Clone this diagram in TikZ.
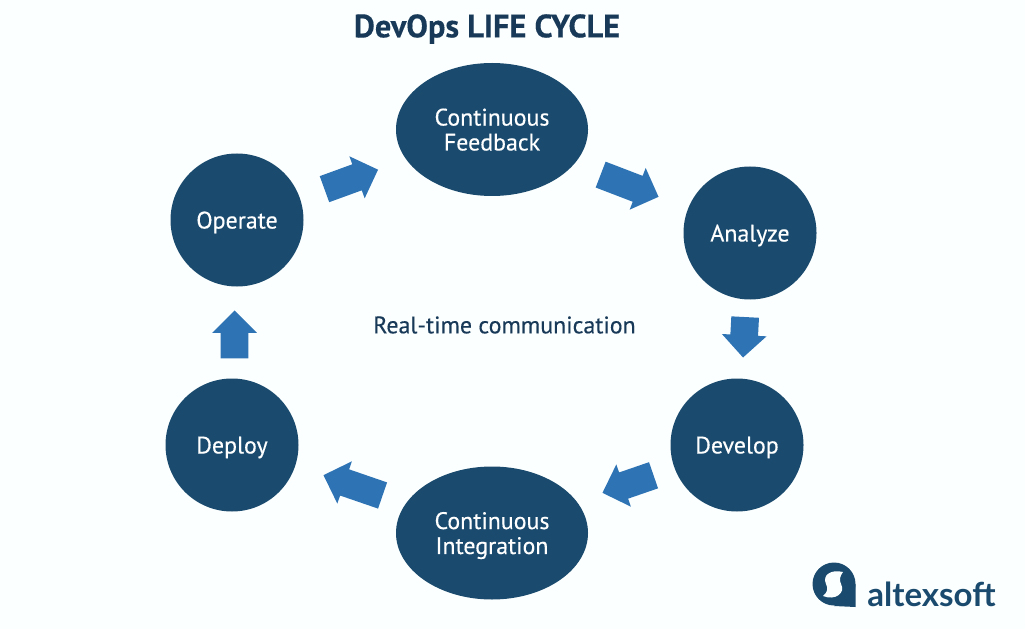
\documentclass[tikz,border=0pt]{standalone}
\usepackage{fontspec}
\setmainfont[FakeBold=0.3]{PT Sans}
\newfontfamily\logofont{Lato}
\usetikzlibrary{shapes.geometric, shapes.arrows}
\definecolor{nodeblue}{RGB}{26,75,110}
\definecolor{arrowblue}{RGB}{46,116,181}
\definecolor{titleblue}{RGB}{24,58,88}
\definecolor{pagewhite}{RGB}{252,255,255}
\tikzset{
  stagenode/.style={circle, fill=nodeblue, text=white, minimum size=2.66cm, inner sep=0pt, text depth=0pt, align=center, font=\fontsize{13.6}{14.2}\selectfont},
  widenode/.style={stagenode, ellipse, minimum width=3.84cm, minimum height=2.66cm},
  flowarrow/.style={single arrow, fill=arrowblue, anchor=tip, inner xsep=0pt, inner ysep=0.27cm, minimum width=0.88cm, single arrow head extend=0.17cm, single arrow head indent=0cm}
}
\begin{document}
\begin{tikzpicture}
  % page
  \fill[pagewhite] (0,0) rectangle (20.5,12.58);
  \useasboundingbox (0,0) rectangle (20.5,12.58);

  % Title
  \node[text=titleblue, font=\fontsize{18.4}{22}\selectfont\bfseries] (title) at (9.74,12.0) {DevOps LIFE CYCLE};
  \node[text=titleblue, font=\fontsize{13.6}{16}\selectfont] (centre) at (10.09,6.08) {Real-time communication};

  % Stages
  \node[widenode] (feedback) at (9.84,9.99) {Continuous\\Feedback};
  \node[stagenode] (analyze) at (15,7.92) {Analyze};
  \node[stagenode] (develop) at (14.74,3.68) {Develop};
  \node[widenode] (integration) at (9.84,1.92) {Continuous\\Integration};
  \node[stagenode] (deploy) at (4.64,3.68) {Deploy};
  \node[stagenode] (operate) at (4.74,8.18) {Operate};

  % Arrows between stages
  \node[flowarrow, minimum height=1.14cm, rotate=20] (arrowa) at (7.57,9.19) {};
  \node[flowarrow, minimum height=1.24cm, rotate=-21] (arrowb) at (13.18,8.64) {};
  \node[flowarrow, minimum height=0.81cm, rotate=-93] (arrowc) at (14.86,5.42) {};
  \node[flowarrow, minimum height=1.08cm, rotate=-161] (arrowd) at (12.04,2.72) {};
  \node[flowarrow, minimum height=1.25cm, rotate=161] (arrowe) at (6.46,3.08) {};
  \node[flowarrow, minimum height=0.96cm, rotate=90] (arrowf) at (4.69,6.38) {};

  % Logo
  \fill[nodeblue] (16.68,0.90) circle (0.43);
  \fill[nodeblue] (16.68,0.46) -- (17.11,0.44) -- (17.11,0.90) -- cycle;
  \fill[pagewhite] (16.86,1.14) .. controls (16.62,1.2) and (16.44,1.08) .. (16.52,0.9) .. controls (16.56,0.82) and (16.56,0.74) .. (16.46,0.66) .. controls (16.7,0.56) and (16.92,0.72) .. (16.82,0.9) .. controls (16.78,0.98) and (16.8,1.06) .. (16.86,1.14) -- cycle;
  \node[anchor=base west, inner sep=0pt, text=nodeblue, font=\fontsize{18.8}{20}\logofont\bfseries] (logo) at (17.34,0.446) {altexsoft};
\end{tikzpicture}
\end{document}
